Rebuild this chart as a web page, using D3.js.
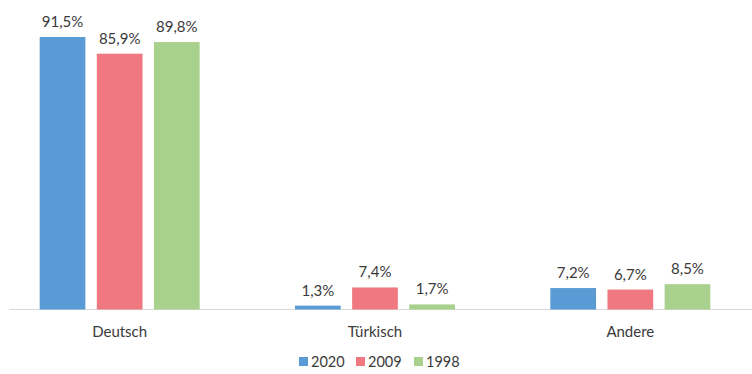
<!DOCTYPE html>
<html>
<head>
<meta charset="utf-8">
<script src="https://cdn.jsdelivr.net/npm/d3@7"></script>
<style>
  html, body { margin: 0; padding: 0; background: #fff; }
  svg { display: block; font-family: Lato, "Open Sans", sans-serif; }
</style>
</head>
<body>
<svg id="chart" width="752" height="374"></svg>
<script>
// Languages and survey years
const categories = ["Deutsch", "Türkisch", "Andere"];
const years = ["2020", "2009", "1998"];
const values2020 = [91.5, 1.3, 7.2];
const values2009 = [85.9, 7.4, 6.7];
const values1998 = [89.8, 1.7, 8.5];
const colors = ["#5b9bd5", "#f07880", "#a9d18e"];

const seriesValues = [values2020, values2009, values1998];
const rows = categories.map((c, i) => ({
  cat: c,
  vals: years.map((y, j) => ({ year: y, value: seriesValues[j][i], idx: j }))
}));

const svg = d3.select("#chart");
const baseY = 309.5;

const x0 = d3.scaleBand().domain(categories).range([-8, 758]).paddingInner(0).paddingOuter(0);
const x1 = d3.scaleBand().domain(years).range([0, 160]).paddingInner(0.2);
const groupOffset = (x0.bandwidth() - 160) / 2;
const y = d3.scaleLinear().domain([0, 91.5]).range([baseY, 37]);

// Baseline
svg.append("line")
  .attr("x1", 9).attr("x2", 752)
  .attr("y1", baseY).attr("y2", baseY)
  .attr("stroke", "#d9d9d9").attr("stroke-width", 1);

const groups = svg.selectAll("g.grp").data(rows).join("g")
  .attr("class", "grp")
  .attr("transform", d => `translate(${x0(d.cat) + groupOffset},0)`);

groups.selectAll("rect").data(d => d.vals).join("rect")
  .attr("x", d => x1(d.year))
  .attr("width", x1.bandwidth())
  .attr("y", d => y(d.value))
  .attr("height", d => baseY - y(d.value))
  .attr("fill", d => colors[d.idx]);

groups.selectAll("text.val").data(d => d.vals).join("text")
  .attr("class", "val")
  .attr("x", d => x1(d.year) + x1.bandwidth() / 2)
  .attr("y", d => y(d.value) - 10)
  .attr("text-anchor", "middle")
  .attr("font-size", 15)
  .attr("fill", "#3a3a3a")
  .text(d => d.value.toFixed(1).replace(".", ",") + "%");

// Category labels
svg.selectAll("text.cat").data(categories).join("text")
  .attr("class", "cat")
  .attr("x", d => x0(d) + x0.bandwidth() / 2)
  .attr("y", 337)
  .attr("text-anchor", "middle")
  .attr("font-size", 15)
  .attr("fill", "#3a3a3a")
  .text(d => d);

// Legend
const legendX = [299, 356, 414];
const legend = svg.selectAll("g.leg").data(years).join("g")
  .attr("class", "leg")
  .attr("transform", (d, i) => `translate(${legendX[i]},357)`);
legend.append("rect").attr("width", 9).attr("height", 9).attr("fill", (d, i) => colors[i]);
legend.append("text")
  .attr("x", 12).attr("y", 9.5)
  .attr("font-size", 14.5)
  .attr("fill", "#3a3a3a")
  .text(d => d);
</script>
</body>
</html>
